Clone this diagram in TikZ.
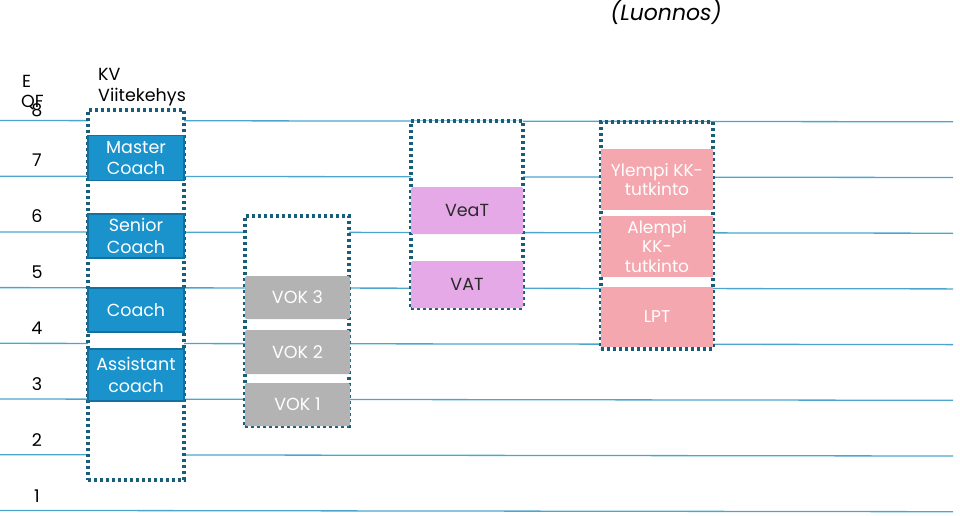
\documentclass[tikz,border=0pt]{standalone}
\usepackage{fontspec}
\setmainfont{Poppins}
\usepackage{tikz}
\usetikzlibrary{positioning,calc}
\definecolor{gridline}{HTML}{4AA6CC}
\definecolor{frameteal}{HTML}{185D7A}
\definecolor{kvblue}{HTML}{1A92CC}
\definecolor{kvedge}{HTML}{14709E}
\definecolor{vokgray}{HTML}{B3B3B3}
\definecolor{ammviolet}{HTML}{E4A9E6}
\definecolor{kkpink}{HTML}{F4A7AF}
\definecolor{darktext}{HTML}{2A2A2A}

\begin{document}
\begin{tikzpicture}[x=1pt, y=-1pt,
  level/.style={draw=gridline, line width=1.3pt},
  frame/.style={rectangle, draw=frameteal, fill=white, line width=3.2pt,
                dash pattern=on 3pt off 3pt, inner sep=0pt},
  kvbox/.style={rectangle, fill=kvblue, draw=kvedge, line width=1.5pt,
                minimum width=96pt, text=white, align=center,
                font=\fontsize{17.5}{21.5}\selectfont, inner sep=0pt},
  vokbox/.style={rectangle, rounded corners=1.5pt, fill=vokgray, minimum width=105pt,
                 text=white, font=\fontsize{17.5}{21}\selectfont, inner sep=0pt},
  ammbox/.style={rectangle, rounded corners=1.5pt, fill=ammviolet, minimum width=112pt,
                 text=darktext, font=\fontsize{17.5}{21}\selectfont, inner sep=0pt},
  kkbox/.style={rectangle, fill=kkpink, minimum width=112pt, text=white, align=center,
                font=\fontsize{17}{19.5}\selectfont, inner sep=0pt},
  qnum/.style={font=\fontsize{17.5}{20}\selectfont, text=black, inner sep=0pt},
]
  \useasboundingbox (0,0) rectangle (960,515);

  % EQF levels
  \foreach \k in {0,...,7}
    \draw[level] (0,{120.5+55.7*\k}) -- (953,{121.8+55.7*\k});
  \foreach \n/\yy in {7/160,6/216,5/272,4/328,3/384,2/440,1/496}
    \node[qnum] (eqf\n) at (37,\yy) {\n};
  \node[qnum, anchor=west] (eqfE) at (22,81) {E};
  \node[qnum, anchor=west] (eqfQF) at (21,102) {QF};
  \node[qnum] (eqf8) at (37,110) {8};

  \node[font=\fontsize{22}{24}\selectfont\itshape, text=black] (draft) at (666,12) {(Luonnos)};

  % KV viitekehys
  \node[frame, minimum width=96pt, minimum height=370pt] (kvframe) at (136,295) {};
  \node[anchor=south west, align=left, font=\fontsize{17.5}{21}\selectfont, inner sep=0pt]
    (kvtitle) at (98,106) {KV\\Viitekehys};
  \node[kvbox, minimum height=45pt] (master) at (136,158) {Master\\Coach};
  \node[kvbox, minimum height=44pt] (senior) at (136,236) {Senior\\Coach};
  \node[kvbox, minimum height=44pt] (coach) at (136,310) {Coach};
  \node[kvbox, minimum height=52pt] (assistant) at (136,375) {Assistant\\coach};

  % VOK
  \node[frame, minimum width=104pt, minimum height=210pt] (vokframe) at (297,321) {};
  \node[vokbox, minimum height=43pt] (vok3) at (297.5,297.5) {VOK 3};
  \node[vokbox, minimum height=44pt] (vok2) at (297.5,352) {VOK 2};
  \node[vokbox, minimum height=43pt] (vok1) at (297.5,404.5) {VOK 1};

  % ammatilliset
  \node[frame, minimum width=112pt, minimum height=187pt] (ammframe) at (467,214.5) {};
  \node[ammbox, minimum height=47pt] (veat) at (467,210.5) {VeaT};
  \node[ammbox, minimum height=47pt] (vat) at (467,284.5) {VAT};

  % korkeakoulut
  \node[frame, minimum width=112pt, minimum height=227pt] (kkframe) at (657,235.5) {};
  \node[kkbox, minimum height=61pt] (ylempi) at (657,179.5) {Ylempi KK-\\tutkinto};
  \node[kkbox, minimum height=61pt] (alempi) at (657,246.5) {Alempi\\KK-\\tutkinto};
  \node[kkbox, minimum height=60pt] (lpt) at (657,317) {LPT};
\end{tikzpicture}
\end{document}
